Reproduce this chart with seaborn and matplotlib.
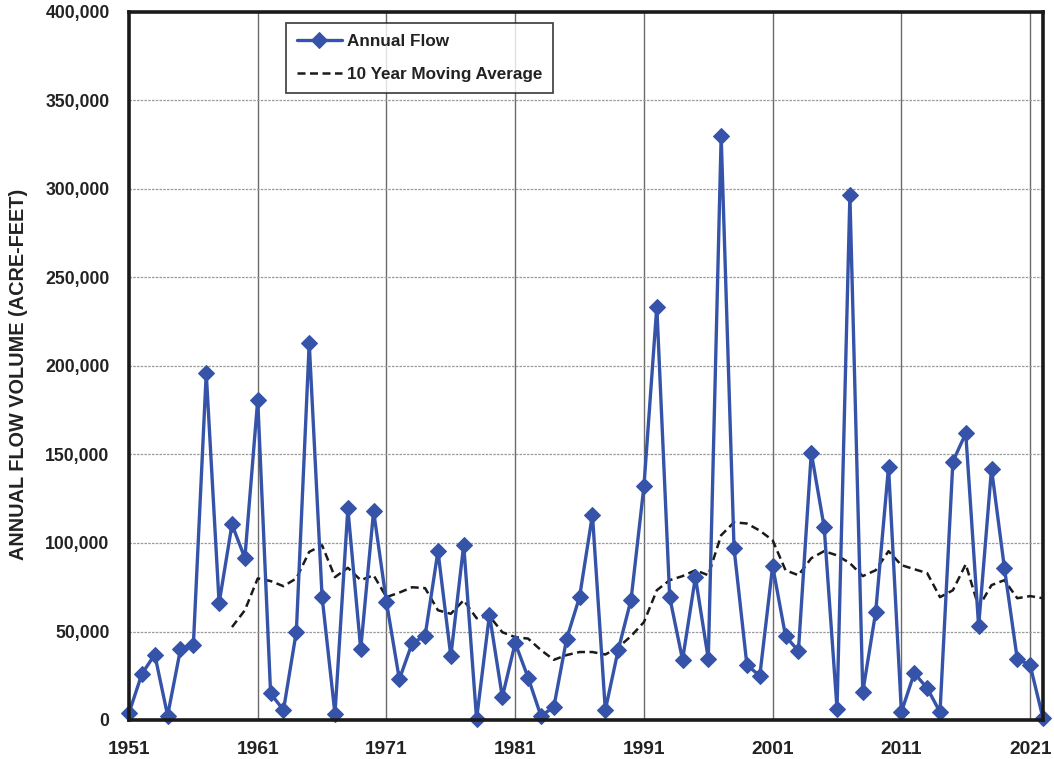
import matplotlib
matplotlib.use("Agg")
import matplotlib.pyplot as plt
from matplotlib.ticker import FuncFormatter, MultipleLocator
import numpy as np
import pandas as pd
import seaborn as sns

# Annual flow volume (acre-feet), water years 1951-2022
years = list(range(1951, 2023))
annual_flow = [
    4000, 26000, 37000, 2500, 40000, 42500, 196000, 66000, 110500, 91500,
    181000, 15000, 5600, 50000, 213000, 69500, 3400, 119500, 40000, 118000,
    66600, 23000, 43500, 47500, 95400, 36000, 99000, 500, 59500, 13000,
    43500, 24000, 2300, 7300, 46000, 69500, 116000, 5600, 39500, 68000,
    132000, 233600, 69500, 34000, 80700, 34500, 330000, 97000, 31000, 25000,
    87000, 47400, 39000, 151000, 109000, 6200, 296500, 15800, 60800, 143000,
    4500, 26500, 18000, 4500, 146000, 162000, 53000, 142000, 86000, 34500,
    31000, 1000,
]

# 10 year moving average, 1959-2022
ma_years = list(range(1959, 2023))
moving_avg = [
    52500, 62000, 80000, 78500, 75600, 80000, 95000, 98700, 80700, 86000,
    79000, 81800, 69400, 72000, 75000, 74500, 62000, 60000, 67700, 57500,
    58700, 49600, 46800, 46000, 39500, 34000, 36700, 38400, 38400, 37000,
    41000, 47400, 55300, 73300, 79000, 81300, 84600, 81800, 104400, 111700,
    111000, 107000, 101500, 84600, 81800, 91400, 95400, 93000, 88600, 81300,
    84600, 95400, 87500, 85200, 83000, 69400, 73300, 88000, 63800, 76200,
    79000, 68800, 70000, 68800,
]

flow_df = pd.DataFrame({"Year": years, "Flow": annual_flow})
ma_df = pd.DataFrame({"Year": ma_years, "Flow": moving_avg})

sns.set_style("white")
plt.rcParams["font.family"] = ["Liberation Sans", "DejaVu Sans"]
plt.rcParams["font.weight"] = "bold"

W, H = 1054, 759
fig = plt.figure(figsize=(W / 100, H / 100), dpi=100)
ax = fig.add_axes([129 / W, 1 - 720 / H, (1043 - 129) / W, (720 - 12) / H])

blue = "#3553A8"
sns.lineplot(data=flow_df, x="Year", y="Flow", ax=ax, color=blue, linewidth=2.4,
             marker="D", markersize=8.5, markeredgecolor=blue,
             label="Annual Flow", clip_on=False, zorder=4)
sns.lineplot(data=ma_df, x="Year", y="Flow", ax=ax, color="#1a1a1a", linewidth=1.8,
             linestyle=(0, (3.2, 1.8)), label="10 Year Moving Average", zorder=3)

ax.set_xlim(1951, 2022)
ax.set_ylim(0, 400000)

ax.xaxis.set_minor_locator(MultipleLocator(1))
ax.set_xticks(list(range(1951, 2022, 10)))
ax.yaxis.set_major_locator(MultipleLocator(50000))
ax.yaxis.set_minor_locator(MultipleLocator(25000))
ax.yaxis.set_major_formatter(FuncFormatter(lambda v, p: f"{int(v):,}"))

ax.tick_params(axis="x", which="both", direction="out", length=5, width=1.3,
               colors="#1a1a1a", labelsize=13.8, pad=9)
ax.tick_params(axis="x", which="major", length=6)
ax.tick_params(axis="y", which="both", direction="in", length=4, width=1.0,
               colors="#1a1a1a", labelsize=12.7, pad=14)
for lbl in ax.get_xticklabels() + ax.get_yticklabels():
    lbl.set_fontweight("bold")
    lbl.set_color("#222222")

# Decade gridlines solid, flow gridlines dotted
ax.grid(False)
for x in range(1961, 2022, 10):
    ax.axvline(x, color="#6b6b6b", linewidth=1.0, zorder=1)
for y in range(50000, 400001, 50000):
    ax.axhline(y, color="#9a9a9a", linewidth=0.9, linestyle=(0, (2, 1)), zorder=1)

for side in ["left", "bottom", "right", "top"]:
    ax.spines[side].set_visible(True)
    ax.spines[side].set_color("#1a1a1a")
    ax.spines[side].set_linewidth(2.6)
    ax.spines[side].set_zorder(5)

ax.set_xlabel("")
ax.set_ylabel("ANNUAL FLOW VOLUME (ACRE-FEET)", fontsize=14.3, fontweight="bold",
              color="#222222")
ax.yaxis.set_label_coords((28 - 129) / 914, (720 - 374) / 708)

leg = ax.legend(loc="upper left", bbox_to_anchor=((286 - 129) / 914, (720 - 23) / 708),
                borderaxespad=0, fontsize=12.3, frameon=True, fancybox=False,
                edgecolor="#1a1a1a", handlelength=2.6, borderpad=0.65,
                labelspacing=1.05, handletextpad=0.3)
leg.get_frame().set_linewidth(1.3)
for t in leg.get_texts():
    t.set_fontweight("bold")
    t.set_color("#222222")

fig.savefig("out.png", dpi=100)
